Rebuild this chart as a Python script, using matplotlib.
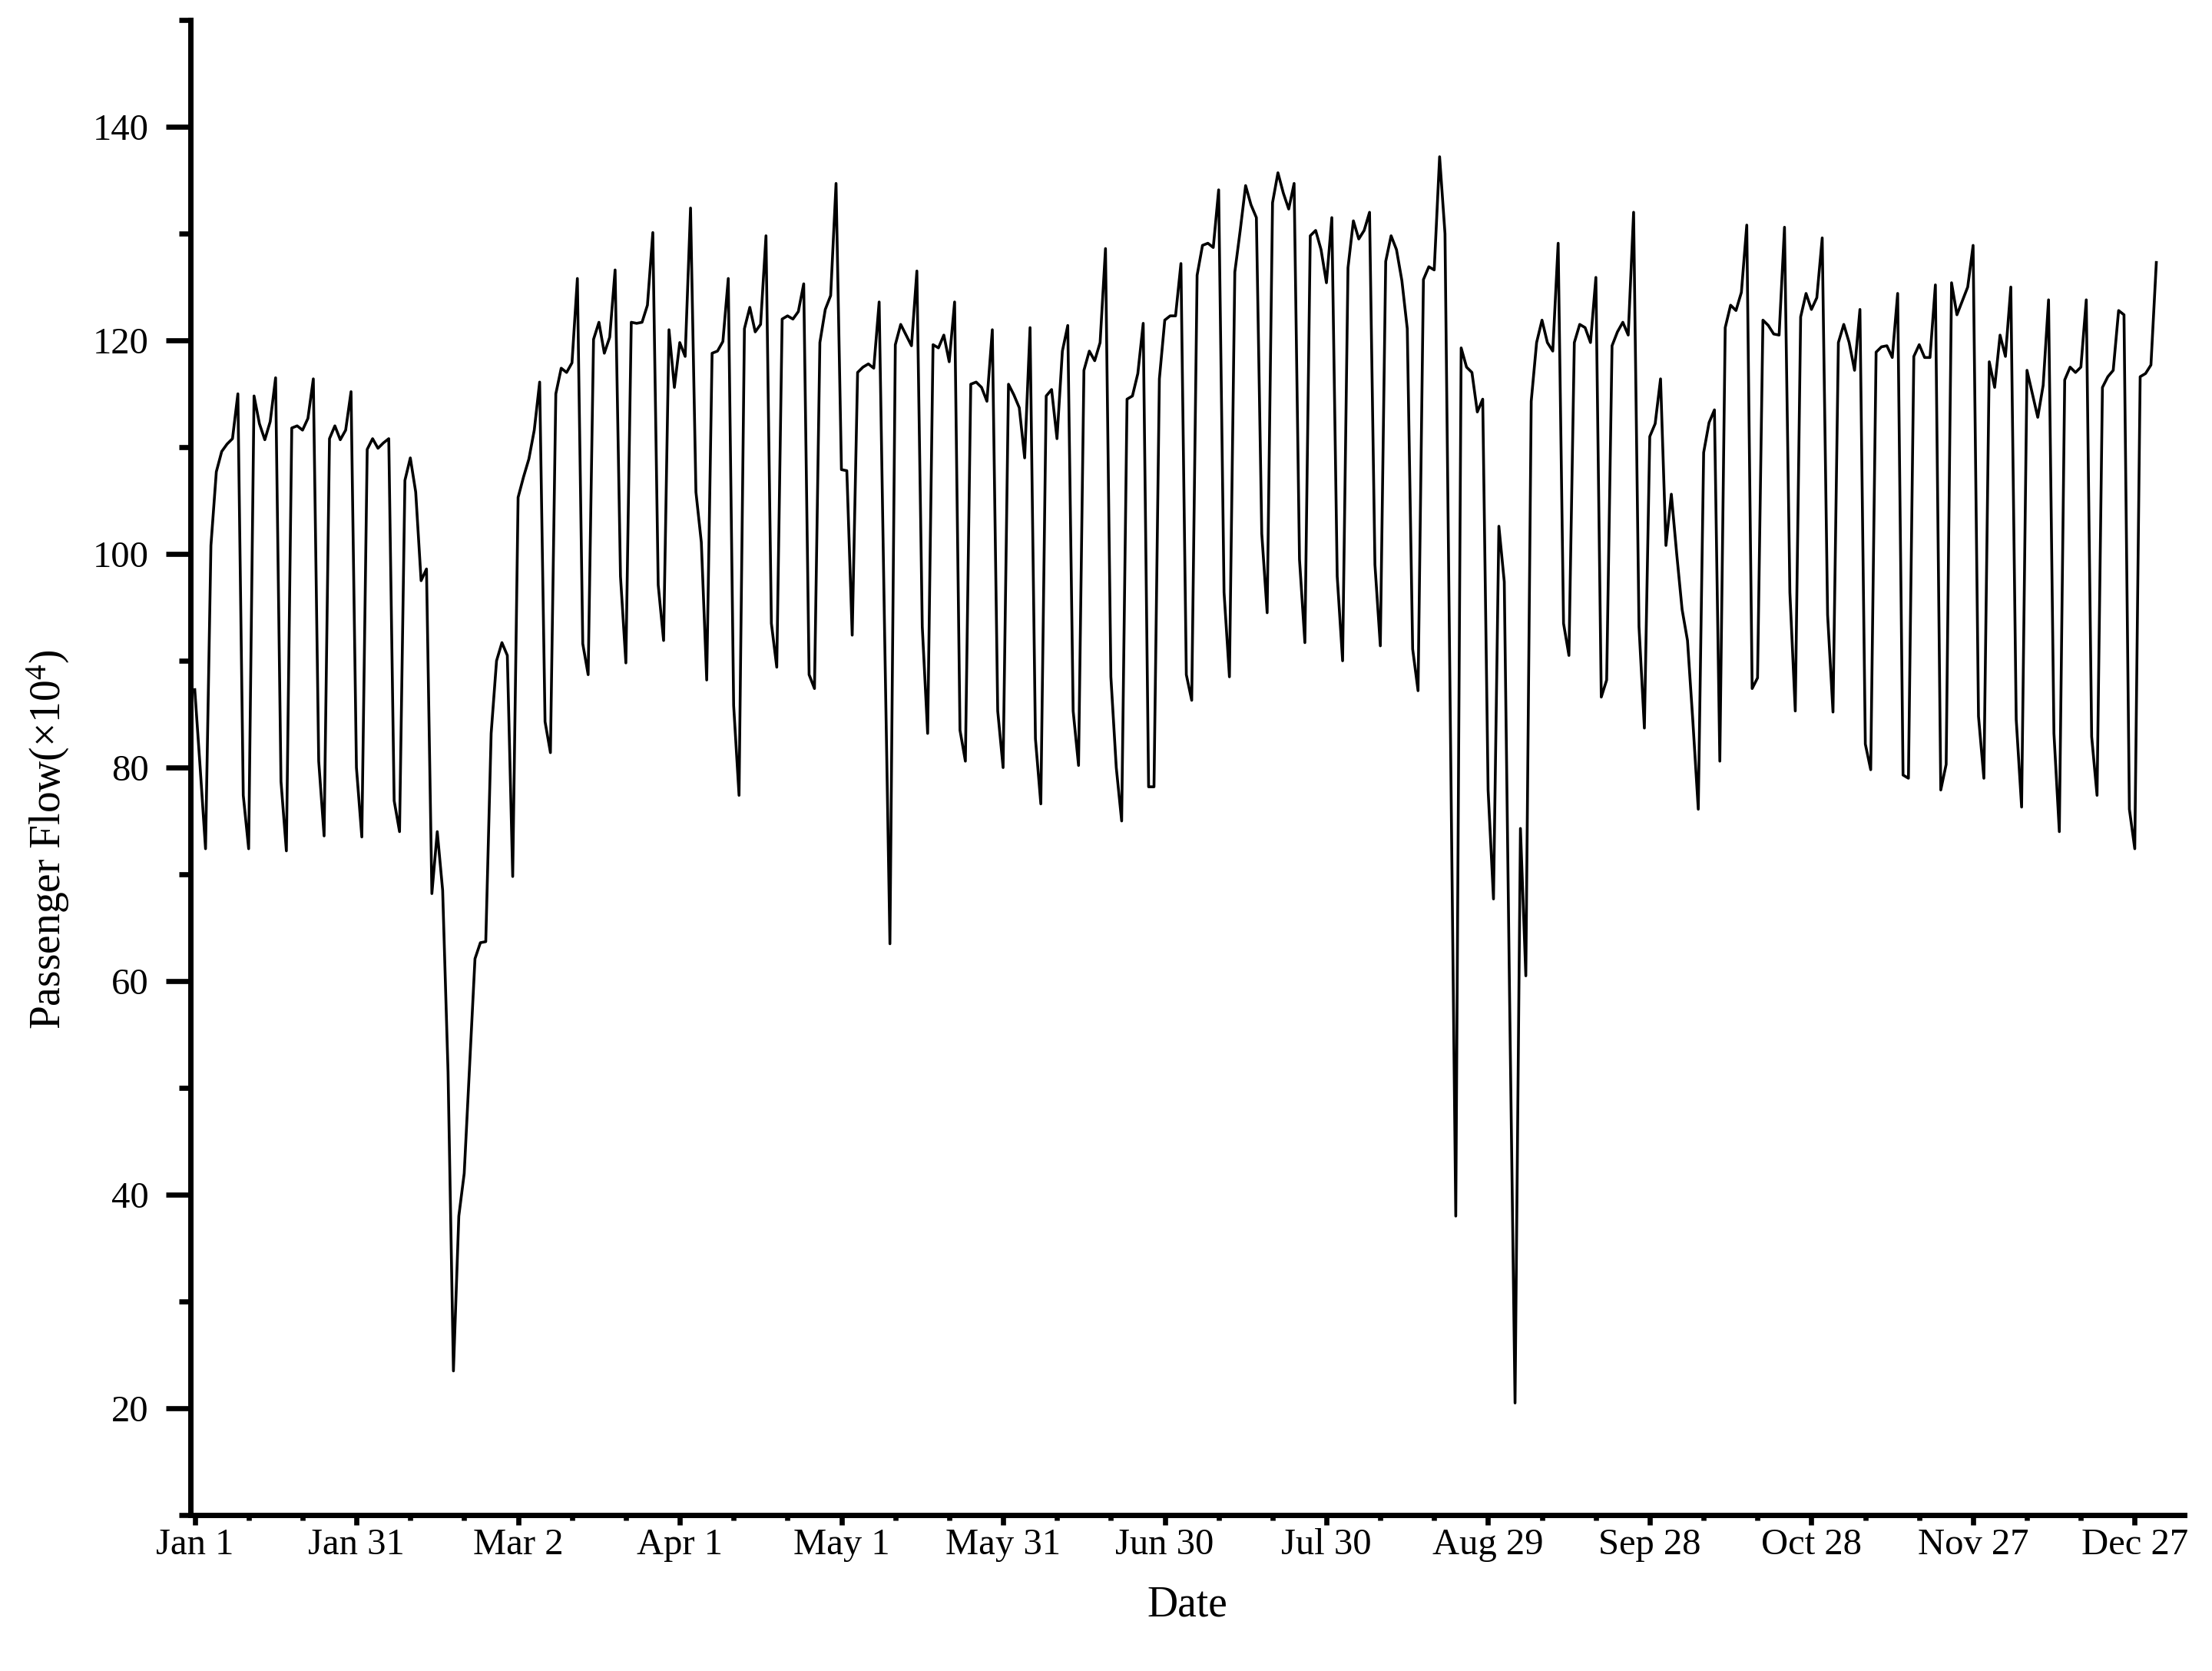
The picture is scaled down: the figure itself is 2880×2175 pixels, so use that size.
import matplotlib
matplotlib.use("Agg")
import matplotlib.pyplot as plt
from matplotlib.ticker import MultipleLocator
import numpy as np

# daily passenger flow (x10^4), day 0 = Jan 1
flow_q1 = [87.3, 80.0, 72.4, 100.8, 107.7, 109.6, 110.3, 110.8, 115.0, 77.4,
           72.4, 114.8, 112.2, 110.7, 112.4, 116.5, 78.7, 72.2, 111.8, 112.0,
           111.6, 112.7, 116.4, 80.6, 73.6, 110.8, 112.0, 110.7, 111.6, 115.2,
           80.0, 73.5, 109.8, 110.8, 109.9, 110.4, 110.8, 76.9, 74.0, 106.9,
           109.0, 105.8, 97.5, 98.6, 68.2, 74.0, 68.5, 51.5, 23.5, 38.0,
           42.0, 52.0, 62.1, 63.6, 63.7, 83.2, 90.0, 91.7, 90.5, 69.8,
           105.3, 107.2, 108.9, 111.6, 116.1, 84.3, 81.4, 115.0, 117.4, 117.0,
           117.9, 125.8, 91.6, 88.7, 120.1, 121.7, 118.8, 120.3, 126.6, 97.9,
           89.8, 121.7, 121.6, 121.7, 123.3, 130.1, 97.1, 91.9, 121.0, 115.6]
flow_q2 = [119.8, 118.5, 132.4, 105.8, 101.1, 88.2, 118.8, 119.0, 119.9, 125.8,
           85.8, 77.4, 121.1, 123.1, 120.8, 121.5, 129.8, 93.5, 89.4, 122.0,
           122.3, 122.0, 122.7, 125.3, 88.7, 87.4, 119.8, 122.9, 124.2, 134.7,
           107.9, 107.8, 92.4, 117.0, 117.5, 117.8, 117.4, 123.6, 93.0, 63.5,
           119.6, 121.5, 120.5, 119.5, 126.5, 93.2, 83.2, 119.6, 119.3, 120.5,
           118.0, 123.6, 83.5, 80.6, 115.9, 116.1, 115.6, 114.3, 121.0, 85.3,
           80.0, 115.9, 114.9, 113.7, 109.0, 121.2, 82.7, 76.6, 114.8, 115.4,
           110.8, 119.0, 121.4, 85.3, 80.2, 117.2, 119.0, 118.1, 119.8, 128.6,
           88.5, 80.0, 75.0, 114.5, 114.8, 116.9, 121.6, 78.2, 78.2, 116.4, 121.9]
flow_q3 = [122.3, 122.3, 127.2, 88.7, 86.3, 126.1, 128.9, 129.1, 128.7, 134.1,
           96.4, 88.5, 126.4, 130.3, 134.5, 132.7, 131.5, 101.9, 94.5, 132.9,
           135.7, 133.8, 132.3, 134.7, 99.5, 91.7, 129.8, 130.3, 128.5, 125.4,
           131.5, 97.9, 90.0, 126.8, 131.2, 129.5, 130.3, 132.0, 99.0, 91.4,
           127.4, 129.8, 128.5, 125.6, 121.1, 91.1, 87.2, 125.7, 126.9, 126.6,
           137.2, 130.0, 84.0, 38.0, 119.3, 117.5, 117.0, 113.3, 114.5, 77.9,
           67.7, 102.6, 97.4, 58.0, 20.5, 74.3, 60.5, 114.3, 119.8, 121.9,
           119.8, 119.0, 129.1, 93.5, 90.5, 119.8, 121.5, 121.2, 119.8, 125.9,
           86.6, 88.2, 119.5, 120.8, 121.7, 120.5, 132.0, 93.2, 83.7, 111.0, 112.2, 116.4]
flow_q4 = [100.8, 105.6, 100.0, 94.8, 91.9, 84.3, 76.1, 109.5, 112.3, 113.5,
           80.6, 121.2, 123.3, 122.8, 124.5, 130.8, 87.4, 88.4, 121.9, 121.4,
           120.6, 120.5, 130.6, 96.4, 85.3, 122.2, 124.4, 122.9, 124.0, 129.6,
           94.3, 85.2, 119.8, 121.5, 119.8, 117.2, 122.9, 82.2, 79.8, 118.9,
           119.4, 119.5, 118.4, 124.4, 79.3, 79.0, 118.5, 119.6, 118.4, 118.4,
           125.2, 77.9, 80.3, 125.4, 122.4, 123.7, 125.0, 128.9, 84.8, 79.0,
           118.0, 115.6, 120.5, 118.5, 125.0, 84.5, 76.3, 117.2, 115.0, 112.8,
           115.8, 123.8, 83.2, 74.0, 116.3, 117.5, 117.0, 117.5, 123.8, 82.9,
           77.4, 115.6, 116.6, 117.2, 122.8, 122.4, 76.1, 72.4, 116.6, 116.9, 117.7, 127.3]

tick_days = [0, 30, 60, 90, 120, 150, 180, 210, 240, 270, 300, 330, 360]
tick_labels = ["Jan 1", "Jan 31", "Mar 2", "Apr 1", "May 1", "May 31", "Jun 30",
               "Jul 30", "Aug 29", "Sep 28", "Oct 28", "Nov 27", "Dec 27"]

flow = np.array(flow_q1 + flow_q2 + flow_q3 + flow_q4)
days = np.arange(len(flow))

plt.rcParams['font.family'] = ['Liberation Serif', 'DejaVu Serif']
plt.rcParams['mathtext.fontset'] = 'custom'
plt.rcParams['mathtext.rm'] = 'Liberation Serif'
plt.rcParams['mathtext.it'] = 'Liberation Serif:italic'

fig = plt.figure(figsize=(14.4, 10.875), dpi=200)
ax = fig.add_axes([0.0861, 0.0933, 0.9014, 0.8947])
ax.plot(days, flow, color='black', linewidth=1.3)

ax.set_xlim(-0.8, 369.2)
ax.set_ylim(10, 150)
ax.set_xticks(tick_days)
ax.set_xticklabels(tick_labels)
ax.xaxis.set_minor_locator(MultipleLocator(10))
ax.set_yticks(np.arange(20, 141, 20))
ax.yaxis.set_minor_locator(MultipleLocator(10))

for side in ['top', 'right']:
    ax.spines[side].set_visible(False)
for side in ['left', 'bottom']:
    ax.spines[side].set_linewidth(2.5)

ax.tick_params(axis='y', which='major', direction='out', length=11.5, width=2.4,
               labelsize=17.5, pad=8)
ax.tick_params(axis='y', which='minor', direction='out', length=5.4, width=2.4)
ax.tick_params(axis='x', which='major', direction='out', length=4.5, width=2.4,
               labelsize=17.5, pad=1.5)
ax.tick_params(axis='x', which='minor', direction='out', length=2.5, width=2.4)

ax.set_xlabel('Date', fontsize=20, labelpad=11)
ax.set_ylabel('Passenger Flow(×10$^{4}$)', fontsize=20, labelpad=10)
ax.yaxis.label.set_y(0.452)

fig.savefig('out.png', dpi=200)
